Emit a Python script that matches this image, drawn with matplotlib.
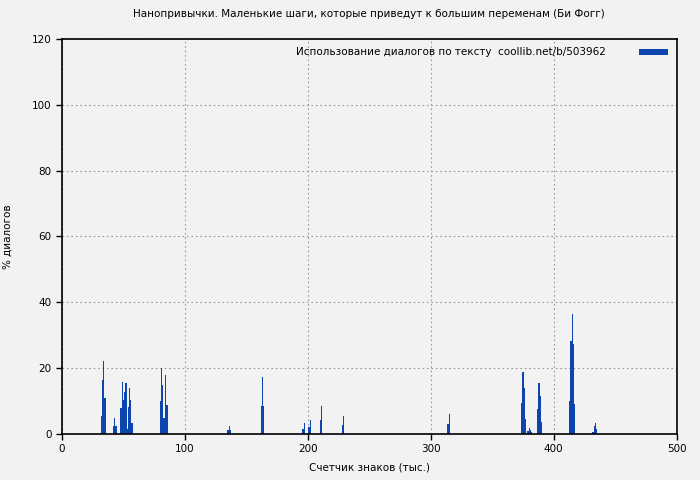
import numpy as np
import matplotlib
matplotlib.use('Agg')
import matplotlib.pyplot as plt

#--------- data ---------
pos = [32, 33, 34, 35,
       42, 43, 44,
       48, 49, 50, 51, 52, 53, 54, 55, 56, 57,
       80, 81, 82, 83, 84, 85, 86,
       135, 136, 137,
       162, 163, 164,
       196, 197,
       201, 202,
       210, 211,
       228, 229,
       314, 315,
       374, 375, 376, 377, 379, 380, 381, 382,
       387, 388, 389, 390,
       413, 414, 415, 416, 417,
       432, 433, 434, 435]
pct = [5.5, 16.4, 22.2, 10.9,
       2.4, 4.9, 2.4,
       7.9, 15.8, 10.3, 12.8, 15.5, 1.5, 8.2, 14.0, 10.3, 3.3,
       10.0, 20.0, 14.9, 4.9, 17.9, 8.8, 8.8,
       1.2, 2.4, 1.2,
       8.5, 17.3, 8.5,
       1.5, 3.3,
       2.1, 4.3,
       4.3, 8.5,
       2.7, 5.5,
       3.0, 6.0,
       9.4, 18.8, 14.0, 4.6, 0.9, 1.8, 1.2, 0.6,
       7.6, 15.5, 11.6, 3.6,
       10.0, 28.3, 36.5, 27.4, 9.1,
       0.6, 2.4, 3.3, 1.5]

x_ticks = [0, 100, 200, 300, 400, 500]
y_ticks = [0, 20, 40, 60, 80, 100, 120]

BG = '#f2f2f2'
BLUE = '#0b45ad'

#--------- plotting ---------
fig = plt.figure(figsize=(7, 4.8), dpi=100, facecolor=BG)
ax = fig.add_axes([0.0886, 0.0958, 0.878, 0.823], facecolor=BG)

ax.bar(pos, pct, width=1.0, color=BLUE, linewidth=0,
       label='Использование диалогов по тексту  coollib.net/b/503962')

ax.set_xlim(0, 500)
ax.set_ylim(0, 120)
ax.set_xticks(x_ticks)
ax.set_yticks(y_ticks)
ax.tick_params(labelsize=7.5, direction='out', length=4, width=1)
ax.grid(True, linestyle=(0, (1.5, 2.5)), color='#999999', linewidth=0.8)
ax.set_axisbelow(True)
for s in ax.spines.values():
    s.set_linewidth(1.2)

ax.set_xlabel('Счетчик знаков (тыс.)', fontsize=7.5, labelpad=6)
ax.set_ylabel('% диалогов', fontsize=7.5, labelpad=14)
ax.set_title('Нанопривычки. Маленькие шаги, которые приведут к большим переменам (Би Фогг)',
             fontsize=7.5, pad=16)

ax.legend(loc='upper right', frameon=False, fontsize=7.5, markerfirst=False,
          handlelength=2.8, handleheight=0.5, handletextpad=3.2,
          borderaxespad=0.4)

fig.savefig('out.png', dpi=100, facecolor=BG)
